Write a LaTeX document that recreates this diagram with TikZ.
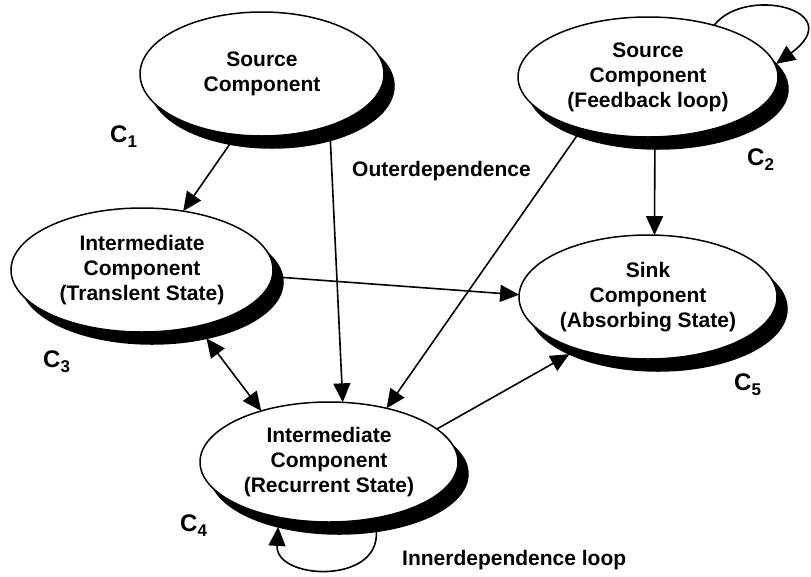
\documentclass[tikz,border=0pt]{standalone}
\usepackage{fontspec}
\setmainfont{Liberation Sans}
\usetikzlibrary{arrows.meta,shapes.geometric}
\tikzset{
  shad/.style={ellipse, fill=black, draw=black, line width=1.5pt, inner sep=0pt, outer sep=0pt},
  comp/.style={ellipse, fill=white, draw=black, line width=1.5pt, inner sep=0pt, outer sep=0pt,
    align=center, font=\fontsize{21}{25}\selectfont\bfseries},
  tip/.tip={Triangle[length=19pt,width=17pt]},
  arr/.style={line width=1.6pt, -tip},
  darr/.style={line width=1.6pt, tip-tip},
  lbl/.style={anchor=base west, inner sep=0pt, font=\fontsize{21}{25}\selectfont\bfseries},
  clbl/.style={anchor=base west, inner sep=0pt, font=\fontsize{24}{28}\selectfont\bfseries}
}
\newcommand{\csub}[2]{C\raisebox{-5pt}{\fontsize{17}{17}\selectfont #2}}
\begin{document}
\begin{tikzpicture}[x=1pt,y=-1pt]
\useasboundingbox[fill=white] (0,0) rectangle (811,576);
% shadows
\node[shad, minimum width=244pt, minimum height=124pt] (sh1) at (272,86) {};
\node[shad, minimum width=260pt, minimum height=120pt] (sh2) at (658,89) {};
\node[shad, minimum width=262pt, minimum height=124pt] (sh3) at (152,282) {};
\node[shad, minimum width=258pt, minimum height=120pt] (sh4) at (339,474) {};
\node[shad, minimum width=258pt, minimum height=124pt] (sh5) at (658,309) {};
% components
\node[comp, minimum width=244pt, minimum height=124pt] (e1) at (262,74) {Source\\Component};
\node[comp, minimum width=260pt, minimum height=120pt] (e2) at (648,77) {Source\\Component\\(Feedback loop)};
\node[comp, minimum width=262pt, minimum height=124pt] (e3) at (142,270) {Intermediate\\Component\\(Translent State)};
\node[comp, minimum width=258pt, minimum height=120pt] (e4) at (329,462) {Intermediate\\Component\\(Recurrent State)};
\node[comp, minimum width=258pt, minimum height=124pt] (e5) at (648,297) {Sink\\Component\\(Absorbing State)};
% labels
\node[clbl] (c1) at (110,142) {\csub{C}{1}};
\node[clbl] (c2) at (747,165) {\csub{C}{2}};
\node[clbl] (c3) at (43,367) {\csub{C}{3}};
\node[clbl] (c4) at (180,531) {\csub{C}{4}};
\node[clbl] (c5) at (734,390) {\csub{C}{5}};
\node[lbl] (outer) at (352,176) {Outerdependence};
\node[lbl] (inner) at (402,565) {Innerdependence loop};
% connectors
\draw[arr] (sh1.234) -- (e3.55);
\draw[arr] (sh1.317) -- (e4.77);
\draw[arr] (sh2.210) -- (e4.43);
\draw[arr] (sh2.267) -- (e5.84);
\draw[arr] (sh3.2) -- (e5.179);
\draw[darr] (sh3.314) -- (e4.143);
\draw[arr] (e4.17) -- (sh5.207);
\draw[arr] (e2.38) .. controls (745,-15) and (850,10) .. (sh2.12);
\draw[arr] (sh4.303) .. controls (380,585) and (275,580) .. (sh4.221);
\end{tikzpicture}
\end{document}
